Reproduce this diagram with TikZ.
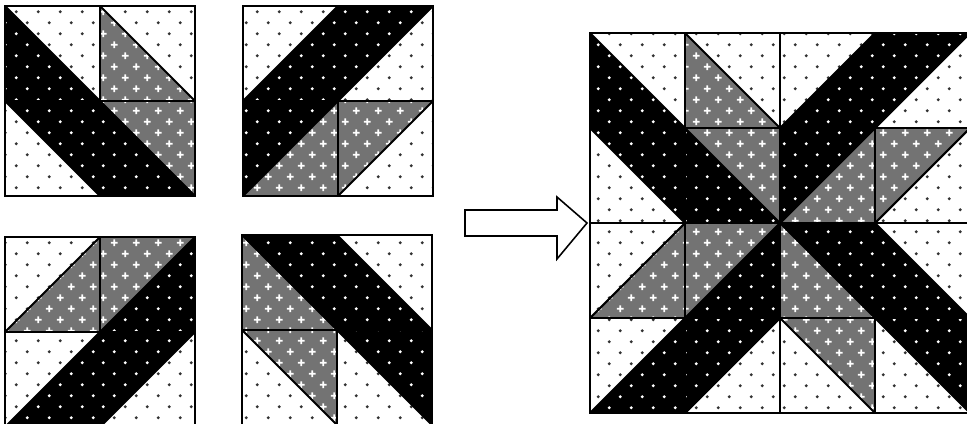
\documentclass[tikz,border=0pt]{standalone}
\usetikzlibrary{patterns}
\pgfdeclarepatternformonly{quiltdots}{\pgfpointorigin}{\pgfqpoint{12.5pt}{12.5pt}}{\pgfqpoint{12.5pt}{12.5pt}}{%
  \pgfpathcircle{\pgfqpoint{3pt}{3pt}}{0.95pt}
  \pgfpathcircle{\pgfqpoint{9.25pt}{9.25pt}}{0.95pt}
  \pgfusepath{fill}}
\pgfdeclarepatternformonly{quiltstars}{\pgfpointorigin}{\pgfqpoint{12.5pt}{12.5pt}}{\pgfqpoint{12.5pt}{12.5pt}}{%
  \pgfpathrectangle{\pgfqpoint{1.1pt}{2.5pt}}{\pgfqpoint{3.8pt}{1pt}}
  \pgfpathrectangle{\pgfqpoint{2.5pt}{1.1pt}}{\pgfqpoint{1pt}{3.8pt}}
  \pgfpathrectangle{\pgfqpoint{7.35pt}{8.75pt}}{\pgfqpoint{3.8pt}{1pt}}
  \pgfpathrectangle{\pgfqpoint{8.75pt}{7.35pt}}{\pgfqpoint{1pt}{3.8pt}}
  \pgfusepath{fill}}

% one quilt square, (#1,#2) = top left corner
% \dpatch: seam from top left to bottom right, #3 lower left, #4 upper right
\newcommand{\dpatch}[4]{%
  \fill[#3] (#1,#2) -- (#1,#2+95) -- (#1+95,#2+95) -- cycle;
  \fill[#4] (#1,#2) -- (#1+95,#2) -- (#1+95,#2+95) -- cycle;
  \draw[seam] (#1,#2) -- (#1+95,#2+95);
  \draw[edge] (#1,#2) rectangle +(95,95);}
% \upatch: seam from bottom left to top right, #3 upper left, #4 lower right
\newcommand{\upatch}[4]{%
  \fill[#3] (#1,#2+95) -- (#1,#2) -- (#1+95,#2) -- cycle;
  \fill[#4] (#1,#2+95) -- (#1+95,#2+95) -- (#1+95,#2) -- cycle;
  \draw[seam] (#1,#2+95) -- (#1+95,#2);
  \draw[edge] (#1,#2) rectangle +(95,95);}

\begin{document}
\begin{tikzpicture}[x=0.02cm, y=-0.02cm,
  wht/.style={preaction={fill=white}, pattern=quiltdots, pattern color=black!80},
  blk/.style={preaction={fill=black}, pattern=quiltdots, pattern color=white},
  gry/.style={preaction={fill=black!55}, pattern=quiltstars, pattern color=white},
  seam/.style={line width=1.2pt},
  edge/.style={line width=1pt},
  bigarrow/.style={draw, line width=0.9pt, fill=white}
]
\clip (0,0) rectangle (967,423);

% block 1
\dpatch{5}{6}{blk}{wht}
\dpatch{100}{6}{gry}{wht}
\dpatch{5}{101}{wht}{blk}
\dpatch{100}{101}{blk}{gry}
% block 2
\upatch{243}{6}{wht}{blk}
\upatch{338}{6}{blk}{wht}
\upatch{243}{101}{blk}{gry}
\upatch{338}{101}{gry}{wht}
% block 3
\upatch{5}{237}{wht}{gry}
\upatch{100}{237}{gry}{blk}
\upatch{5}{332}{wht}{blk}
\upatch{100}{332}{blk}{wht}
% block 4
\dpatch{242}{235}{gry}{blk}
\dpatch{337}{235}{blk}{wht}
\dpatch{242}{330}{wht}{gry}
\dpatch{337}{330}{wht}{blk}

% arrow
\draw[bigarrow] (465,210) -- (557,210) -- (557,197) -- (587,223)
  -- (557,259) -- (557,236) -- (465,236) -- cycle;

% assembled quilt
\dpatch{590}{33}{blk}{wht}
\dpatch{685}{33}{gry}{wht}
\upatch{780}{33}{wht}{blk}
\upatch{875}{33}{blk}{wht}
\dpatch{590}{128}{wht}{blk}
\dpatch{685}{128}{blk}{gry}
\upatch{780}{128}{blk}{gry}
\upatch{875}{128}{gry}{wht}
\upatch{590}{223}{wht}{gry}
\upatch{685}{223}{gry}{blk}
\dpatch{780}{223}{gry}{blk}
\dpatch{875}{223}{blk}{wht}
\upatch{590}{318}{wht}{blk}
\upatch{685}{318}{blk}{wht}
\dpatch{780}{318}{wht}{gry}
\dpatch{875}{318}{wht}{blk}
\end{tikzpicture}
\end{document}
